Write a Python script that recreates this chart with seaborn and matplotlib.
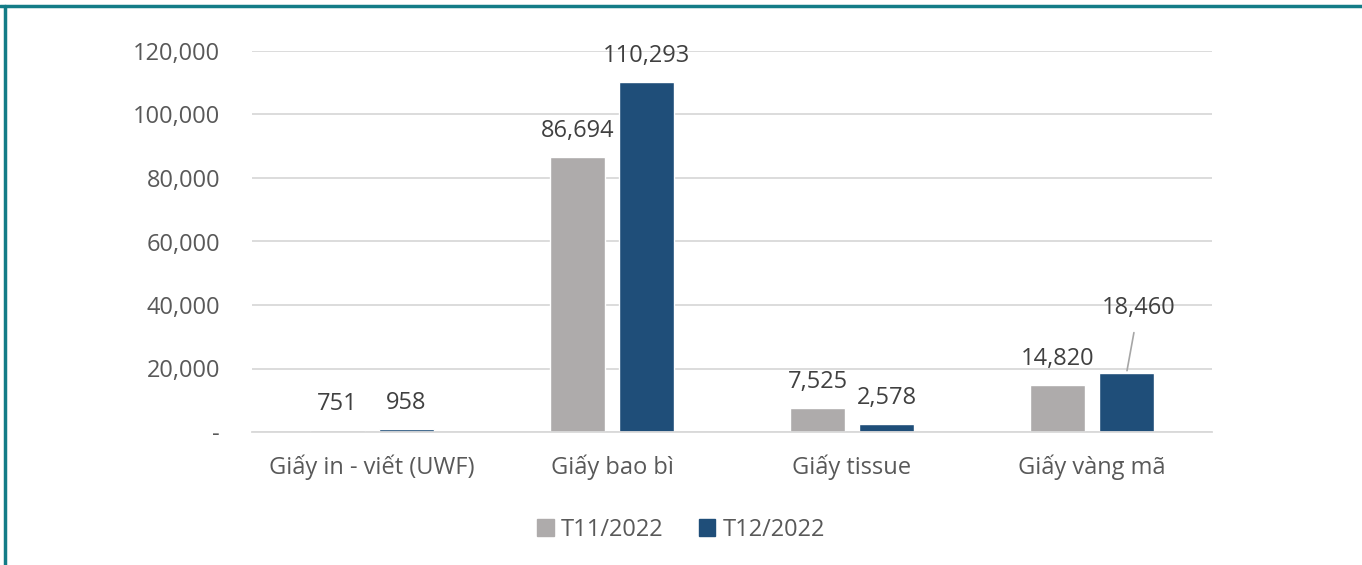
import numpy as np
import pandas as pd
import matplotlib
matplotlib.use('Agg')
import matplotlib.pyplot as plt
import matplotlib.ticker as mticker
from matplotlib.lines import Line2D
import seaborn as sns

# du lieu doc tu bieu do
categories = ['Giấy in - viết (UWF)', 'Giấy bao bì', 'Giấy tissue', 'Giấy vàng mã']
t11 = [751, 86694, 7525, 14820]
t12 = [958, 110293, 2578, 18460]
series = ['T11/2022', 'T12/2022']
colors = ['#AEABAB', '#1F4E79']
yticks = [0, 20000, 40000, 60000, 80000, 100000, 120000]

df = pd.DataFrame({
    'cat': categories * 2,
    'value': t11 + t12,
    'period': [series[0]] * len(categories) + [series[1]] * len(categories),
})

sns.set_style('white')
plt.rcParams['font.family'] = ['Open Sans', 'DejaVu Sans']
txt = '#595959'

fig = plt.figure(figsize=(13.62, 5.65), dpi=100)
ax = fig.add_axes([252 / 1362, 1 - 432 / 565, 960 / 1362, (432 - 51) / 565])

sns.barplot(data=df, x='cat', y='value', hue='period', palette=colors,
            width=0.575, gap=0.217, saturation=1, ax=ax, legend=False)

ax.set_xlim(-0.5, 3.5)
ax.set_ylim(0, 120000)
ax.set_yticks(yticks)
ax.yaxis.set_major_formatter(mticker.FuncFormatter(lambda v, p: '-' if v == 0 else f'{v:,.0f}'))
ax.grid(axis='y', color='#D9D9D9', linewidth=1.3)
ax.set_axisbelow(True)
for s in ['top', 'right', 'left']:
    ax.spines[s].set_visible(False)
ax.spines['bottom'].set_color('#D9D9D9')
ax.spines['bottom'].set_linewidth(1.3)
ax.tick_params(axis='both', length=0, labelsize=17, colors=txt)
ax.tick_params(axis='y', pad=23)
ax.tick_params(axis='x', pad=16)
ax.set_xlabel('')
ax.set_ylabel('')

# nhan gia tri
for k, cont in enumerate(ax.containers):
    labels = [f'{v:,.0f}' for v in cont.datavalues]
    if k == 1:
        labels[3] = ''
    ax.bar_label(cont, labels=labels, padding=10, fontsize=17, color='#404040')

# nhan 18,460 voi duong dan
bar = ax.containers[1][3]
bx = bar.get_x() + bar.get_width() / 2
ax.annotate(f'{t12[3]:,.0f}', xy=(bx, t12[3]), xytext=(bx + 0.05, t12[3] + 20600),
            ha='center', va='center', fontsize=17, color='#404040')
ax.annotate('', xy=(bx, t12[3]), xytext=(bx + 0.033, t12[3] + 13700),
            arrowprops=dict(arrowstyle='-', color='#A6A6A6', lw=1.2))

handles = [plt.Rectangle((0, 0), 1, 1, color=c) for c in colors]
fig.legend(handles, series, loc='center', bbox_to_anchor=(0.5, 1 - 530 / 565), ncol=2,
           frameon=False, fontsize=17, labelcolor=txt, handlelength=0.7, handleheight=0.7,
           handletextpad=0.3, columnspacing=1.5)

# khung vien
teal = '#137C87'
fig.add_artist(Line2D([0, 1], [1 - 5.5 / 565] * 2, color=teal, lw=2.5, transform=fig.transFigure))
fig.add_artist(Line2D([5 / 1362] * 2, [0, 1 - 5.5 / 565], color=teal, lw=2.5, transform=fig.transFigure))

fig.savefig('out.png', dpi=100)
